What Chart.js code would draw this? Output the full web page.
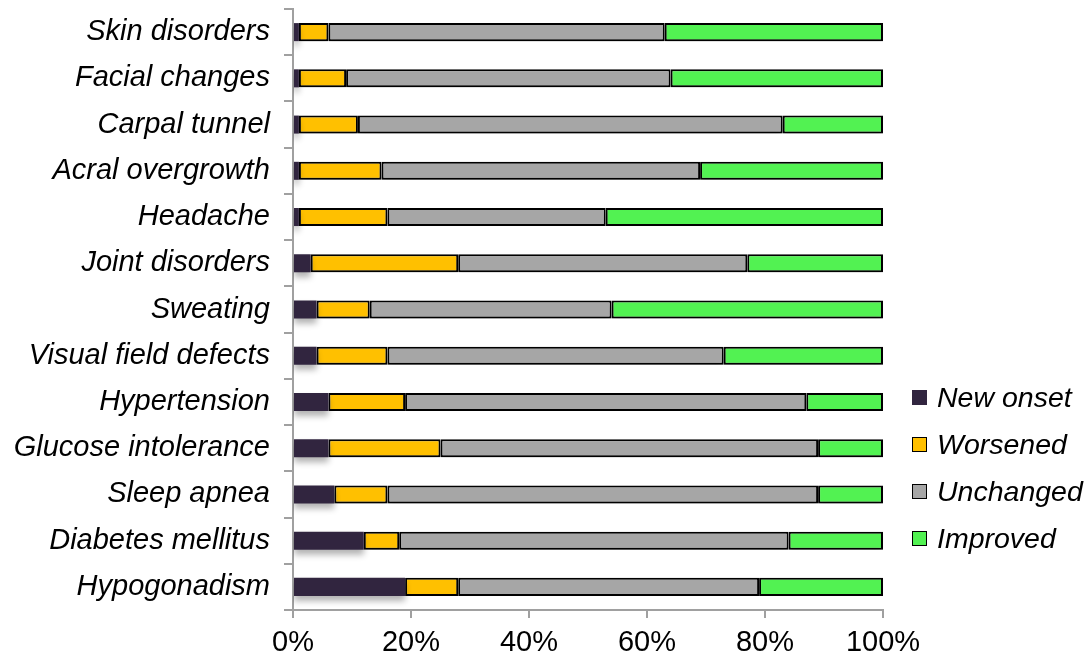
<!DOCTYPE html>
<html>
<head>
<meta charset="utf-8">
<script src="https://cdn.jsdelivr.net/npm/chart.js@4/dist/chart.umd.min.js"></script>
<style>
  html, body { margin: 0; padding: 0; background: #fff; }
  #wrap { position: relative; width: 1088px; height: 661px; }
  #legend { position: absolute; left: 912px; top: 374px; font-family: "Liberation Sans", Arial, sans-serif; font-style: italic; font-size: 28.5px; color: #000; }
  .item { display: flex; align-items: center; height: 47px; }
  .box { width: 13px; height: 13px; border: 1px solid #000; margin-right: 10px; }
</style>
</head>
<body>
<div id="wrap">
  <canvas id="chart" width="1088" height="661"></canvas>
  <div id="legend"></div>
</div>
<script>
const categories = ['Skin disorders', 'Facial changes', 'Carpal tunnel', 'Acral overgrowth', 'Headache',
  'Joint disorders', 'Sweating', 'Visual field defects', 'Hypertension', 'Glucose intolerance',
  'Sleep apnea', 'Diabetes mellitus', 'Hypogonadism'];
const newOnset  = [1, 1, 1, 1, 1, 3, 4, 4, 6, 6, 7, 12, 19];
const worsened  = [5, 8, 10, 14, 15, 25, 9, 12, 13, 19, 9, 6, 9];
const unchanged = [57, 55, 72, 54, 37, 49, 41, 57, 68, 64, 73, 66, 51];
const improved  = [37, 36, 17, 31, 47, 23, 46, 27, 13, 11, 11, 16, 21];
const seriesNames = ['New onset', 'Worsened', 'Unchanged', 'Improved'];
const xTicks = [0, 20, 40, 60, 80, 100];

const colors = ['#31253f', '#ffc000', '#a6a6a6', '#52f252'];
const font = { family: '"Liberation Sans", Arial, sans-serif', size: 29, style: 'italic' };
const axisGray = '#a0a0a0';

// soft drop shadow under the bars
const shadowPlugin = {
  id: 'barShadow',
  beforeDatasetsDraw(chart) {
    const ctx = chart.ctx;
    ctx.save();
    ctx.shadowColor = 'rgba(0,0,0,0.3)';
    ctx.shadowBlur = 6;
    ctx.shadowOffsetY = 5;
  },
  afterDatasetsDraw(chart) {
    chart.ctx.restore();
  }
};

const values = [newOnset, worsened, unchanged, improved];
const datasets = values.map((d, i) => ({
  label: seriesNames[i],
  data: d,
  backgroundColor: colors[i],
  borderColor: '#000',
  borderWidth: i === 0 ? 0 : 2,
  borderSkipped: false,
  categoryPercentage: 0.39,
  barPercentage: 1
}));

new Chart(document.getElementById('chart'), {
  type: 'bar',
  data: { labels: categories, datasets: datasets },
  options: {
    indexAxis: 'y',
    responsive: false,
    animation: false,
    layout: { padding: { top: 9, right: 205, left: 0, bottom: 0 } },
    plugins: { legend: { display: false }, tooltip: { enabled: false } },
    scales: {
      x: {
        stacked: true,
        min: 0,
        max: 100,
        afterBuildTicks: s => { s.ticks = xTicks.map(v => ({ value: v })); },
        afterFit: s => { s.height = 51; },
        grid: { drawOnChartArea: false, drawTicks: true, tickLength: 8, color: axisGray, lineWidth: 2 },
        border: { color: axisGray, width: 2 },
        ticks: { color: '#000', padding: 8, font: { family: font.family, size: 29 }, callback: v => v + '%' }
      },
      y: {
        stacked: true,
        afterFit: s => { s.width = 293; s.paddingTop = 0; s.paddingBottom = 0; },
        grid: { drawOnChartArea: false, drawTicks: true, tickLength: 9, color: axisGray, lineWidth: 2, offset: true },
        border: { color: axisGray, width: 2 },
        ticks: { color: '#000', padding: 14, font: font }
      }
    }
  },
  plugins: [shadowPlugin]
});

const legend = document.getElementById('legend');
seriesNames.forEach((name, i) => {
  const item = document.createElement('div');
  item.className = 'item';
  const box = document.createElement('span');
  box.className = 'box';
  box.style.background = colors[i];
  if (i === 0) { box.style.borderColor = colors[i]; }
  const label = document.createElement('span');
  label.textContent = name;
  item.appendChild(box);
  item.appendChild(label);
  legend.appendChild(item);
});
</script>
</body>
</html>
